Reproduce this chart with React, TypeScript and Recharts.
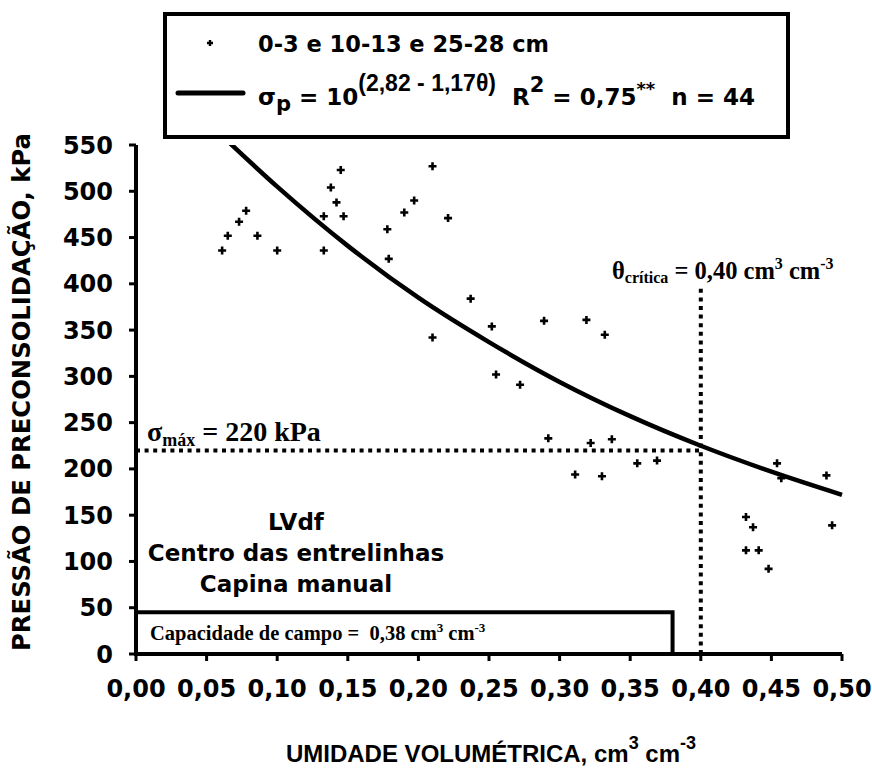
import React from 'react'
import { ComposedChart, Scatter, Line, XAxis, YAxis, ReferenceLine, ReferenceArea } from 'recharts'

// measured points (volumetric water content, preconsolidation pressure kPa)
const theta = [
  0.061, 0.065, 0.073, 0.078, 0.086, 0.100, 0.133, 0.133, 0.138, 0.142,
  0.145, 0.147, 0.178, 0.179, 0.190, 0.197, 0.210, 0.210, 0.221, 0.237,
  0.252, 0.255, 0.272, 0.289, 0.292, 0.311, 0.319, 0.322, 0.330, 0.332,
  0.337, 0.355, 0.369, 0.432, 0.432, 0.437, 0.441, 0.448, 0.454, 0.457,
  0.489, 0.493,
]
const sigma = [
  436, 452, 467, 479, 452, 436, 436, 473, 504, 488,
  523, 473, 459, 427, 477, 490, 527, 342, 471, 384,
  354, 302, 291, 360, 233, 194, 361, 228, 192, 345,
  232, 206, 209, 148, 112, 137, 112, 92, 206, 190,
  193, 139,
]

// fitted curve
const fitTheta = [0.063, 0.10, 0.15, 0.20, 0.25, 0.30, 0.35, 0.40, 0.45, 0.50]
const fitSigma = [557, 505, 441, 385, 337, 294, 257, 225, 197, 172]

const xTicks = [0, 0.05, 0.1, 0.15, 0.2, 0.25, 0.3, 0.35, 0.4, 0.45, 0.5]
const yTicks = [0, 50, 100, 150, 200, 250, 300, 350, 400, 450, 500, 550]

const sigmaMax = 220
const thetaCrit = 0.4
const fieldCapacity = 0.38

const points = theta.map((x, i) => ({ x, y: sigma[i] }))
const fit = fitTheta.map((x, i) => ({ x, y: fitSigma[i] }))

const SANS = "'DejaVu Sans', sans-serif"
const ARIAL = "'Liberation Sans', Arial, sans-serif"
const SERIF = "'Liberation Serif', 'Times New Roman', serif"

const Plus = (props: any) => {
  const { cx, cy } = props
  if (cx == null || cy == null) return null
  return (
    <path
      d={`M${cx - 4},${cy}H${cx + 4}M${cx},${cy - 4}V${cy + 4}`}
      stroke="#000"
      strokeWidth={2.6}
    />
  )
}

const tickStyle = { fill: '#000', fontSize: 24, fontWeight: 'bold', fontFamily: SANS }

export default function App() {
  return (
    <div style={{ position: 'absolute', left: 0, top: 0, width: 872, height: 776, background: '#fff' }}>
      <ComposedChart
        width={872}
        height={776}
        margin={{ top: 145, right: 30, bottom: 62, left: 0 }}
      >
        <XAxis
          dataKey="x"
          type="number"
          domain={[0, 0.5]}
          ticks={xTicks}
          interval={0}
          tickFormatter={(v: number) => v.toFixed(2).replace('.', ',')}
          tick={tickStyle}
          tickSize={7}
          tickMargin={19}
          height={60}
          axisLine={{ stroke: '#000', strokeWidth: 4 }}
          tickLine={{ stroke: '#000', strokeWidth: 3 }}
        />
        <YAxis
          dataKey="y"
          type="number"
          domain={[0, 550]}
          allowDataOverflow
          ticks={yTicks}
          interval={0}
          tick={tickStyle}
          tickSize={7}
          tickMargin={16}
          width={136}
          axisLine={{ stroke: '#000', strokeWidth: 4 }}
          tickLine={{ stroke: '#000', strokeWidth: 3 }}
        />
        <ReferenceArea
          x1={0}
          x2={fieldCapacity}
          y1={0}
          y2={45}
          fill="#fff"
          fillOpacity={1}
          stroke="#000"
          strokeWidth={4}
        />
        <ReferenceLine
          segment={[{ x: 0, y: sigmaMax }, { x: thetaCrit, y: sigmaMax }]}
          stroke="#000"
          strokeWidth={4}
          strokeDasharray="4 4.6"
        />
        <ReferenceLine
          segment={[{ x: thetaCrit, y: 0 }, { x: thetaCrit, y: 395 }]}
          stroke="#000"
          strokeWidth={4}
          strokeDasharray="4 4.6"
        />
        <Line
          data={fit}
          dataKey="y"
          type="monotone"
          stroke="#000"
          strokeWidth={4.5}
          dot={false}
          isAnimationActive={false}
        />
        <Scatter data={points} dataKey="y" shape={<Plus />} isAnimationActive={false} />
      </ComposedChart>

      <svg
        width={872}
        height={776}
        style={{ position: 'absolute', left: 0, top: 0, pointerEvents: 'none' }}
      >
        {/* legend box */}
        <rect x={165} y={14} width={623} height={123} fill="#fff" stroke="#000" strokeWidth={4} />
        <path d="M207,43H213M210,40V46" stroke="#000" strokeWidth={2.4} />
        <text x={258} y={52} fontFamily={SANS} fontWeight="bold" fontSize={22.5}>0-3 e 10-13 e 25-28 cm</text>
        <line x1={178} y1={93} x2={243} y2={93} stroke="#000" strokeWidth={5} strokeLinecap="round" />
        <text x={258} y={105} xmlSpace="preserve" fontFamily={SANS} fontWeight="bold" fontSize={23}>
          σ<tspan dy={6} fontSize={21}>p</tspan>
          <tspan dy={-6}> = 10</tspan>
          <tspan dy={-14} fontSize={23} fontFamily={ARIAL}>(2,82 - 1,17θ)</tspan>
          <tspan dy={14}>  R</tspan>
          <tspan dy={-13} fontSize={21}>2</tspan>
          <tspan dy={13}> = 0,75</tspan>
          <tspan dy={-10} fontSize={18}>**</tspan>
          <tspan dy={10}>  n = 44</tspan>
        </text>

        {/* annotations */}
        <text x={147} y={441} xmlSpace="preserve" fontFamily={SERIF} fontWeight="bold" fontSize={28}>
          σ<tspan dy={5} fontSize={18}>máx</tspan>
          <tspan dy={-5}> = 220 kPa</tspan>
        </text>
        <text x={612} y={279} xmlSpace="preserve" fontFamily={SERIF} fontWeight="bold" fontSize={24.5}>
          θ<tspan dy={4} fontSize={16}>crítica</tspan>
          <tspan dy={-4}> = 0,40 cm</tspan>
          <tspan dy={-10} fontSize={16}>3</tspan>
          <tspan dy={10}> cm</tspan>
          <tspan dy={-10} fontSize={16}>-3</tspan>
        </text>
        <text x={150} y={640} xmlSpace="preserve" fontFamily={SERIF} fontWeight="bold" fontSize={20.5}>
          Capacidade de campo =  0,38 cm<tspan dy={-8} fontSize={13}>3</tspan>
          <tspan dy={8}> cm</tspan>
          <tspan dy={-8} fontSize={13}>-3</tspan>
        </text>
        <g fontFamily={SANS} fontWeight="bold" fontSize={23} textAnchor="middle">
          <text x={296} y={530}>LVdf</text>
          <text x={296} y={561}>Centro das entrelinhas</text>
          <text x={296} y={592}>Capina manual</text>
        </g>

        {/* axis titles */}
        <text
          x={0}
          y={0}
          transform="translate(30,392) rotate(-90)"
          textAnchor="middle"
          fontFamily={SANS}
          fontWeight="bold"
          fontSize={24.3}
        >
          PRESSÃO DE PRECONSOLIDAÇÃO, kPa
        </text>
        <text x={491} y={762} textAnchor="middle" xmlSpace="preserve" fontFamily={ARIAL} fontWeight="bold" fontSize={24}>
          UMIDADE VOLUMÉTRICA, cm<tspan dy={-13} fontSize={18}>3</tspan>
          <tspan dy={13}> cm</tspan>
          <tspan dy={-13} fontSize={18}>-3</tspan>
        </text>
      </svg>
    </div>
  )
}
